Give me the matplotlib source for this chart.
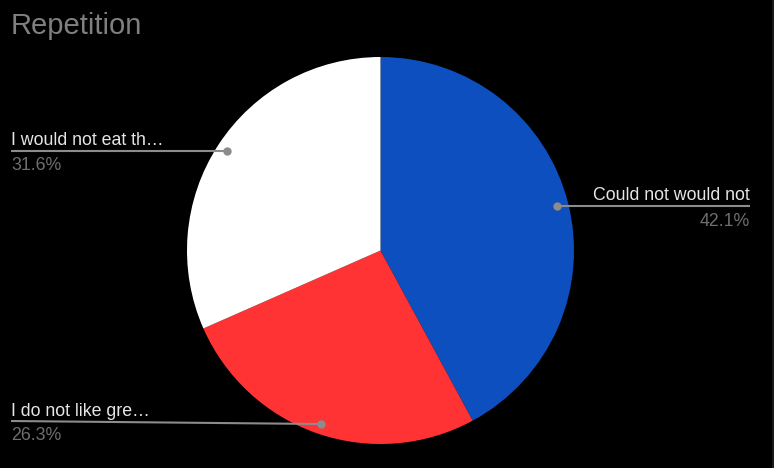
import numpy as np
import matplotlib.pyplot as plt
from matplotlib.patches import Rectangle

labels = ['Could not would not', 'I do not like gre…', 'I would not eat th…']
values = [42.1, 26.3, 31.6]
colors = ['#0d4fbf', '#ff3333', '#ffffff']

W, H = 774, 468
fig = plt.figure(figsize=(W / 100, H / 100), dpi=100, facecolor='black')
ax = fig.add_axes([0, 0, 1, 1])
ax.set_facecolor('black')

cx, cy, r = 380.5, 250.5, 193.5
# y axis is flipped, so counterclock=True draws clockwise on screen
wedges, _ = ax.pie(values, colors=colors, startangle=-90, counterclock=True,
                   center=(cx, cy), radius=r, frame=True)
ax.set_xlim(0, W)
ax.set_ylim(H, 0)
ax.set_aspect('equal')
ax.axis('off')

font = 'Liberation Sans'
txt_col = '#e6e6e6'
pct_col = '#6e6e6e'
line_col = '#8c8c8c'

# label anchors: (dot_x, dot_y, line_x_end, line_y_end, text_x, ha)
anchors = [
    (557, 206, 750, 206, 750, 'right'),
    (321, 424, 11, 421, 11, 'left'),
    (227, 150.5, 11, 150.5, 11, 'left'),
]
for lab, v, (dx, dy, lx, ly, tx, ha) in zip(labels, values, anchors):
    ax.plot([dx, lx], [dy, ly], color=line_col, lw=1.5, solid_capstyle='butt')
    ax.plot(dx, dy, 'o', color=line_col, ms=5)
    ax.text(tx, ly - 5.5, lab, ha=ha, va='baseline', color=txt_col,
            fontsize=12.8, family=font)
    ax.text(tx, ly + 19.5, f'{v:.1f}%', ha=ha, va='baseline', color=pct_col,
            fontsize=12.8, family=font)

ax.text(11, 34.3, 'Repetition', ha='left', va='baseline', color='#7f7f7f',
        fontsize=21, family=font)

ax.add_patch(Rectangle((772, 0), 2, H, color='#1a1a1a', lw=0))

fig.savefig('out.png', dpi=100, facecolor='black')
